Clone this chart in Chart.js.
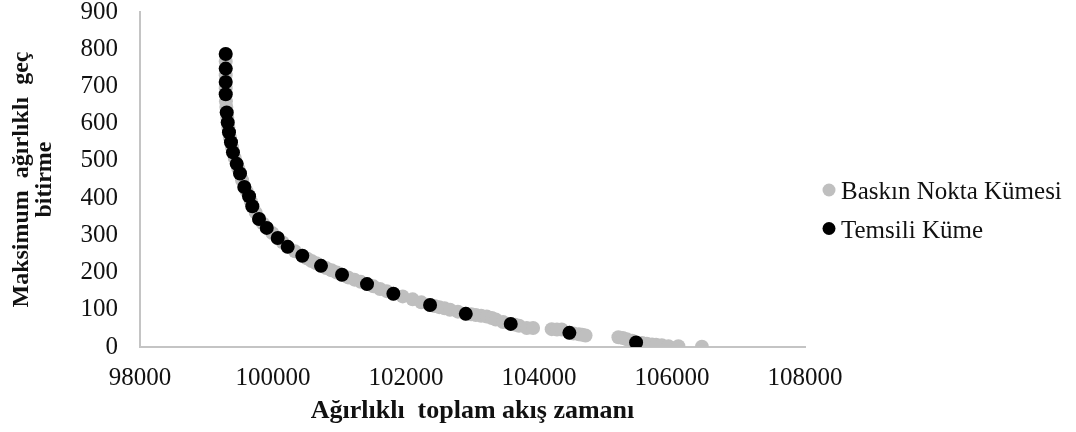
<!DOCTYPE html>
<html><head><meta charset="utf-8">
<script src="https://cdn.jsdelivr.net/npm/chart.js@4.4.0/dist/chart.umd.min.js"></script>
<style>html,body{margin:0;padding:0;background:#fff;overflow:hidden;} #wrap{width:1076px;height:432px;}</style>
</head><body><div id="wrap"><canvas id="c" width="1076" height="432"></canvas></div>
<script>
const seriesNames = ['Baskın Nokta Kümesi', 'Temsili Küme'];
const dominantX = [99289,99289,99289,99289,99289,99289,99289,99292,99298,99304,99312,99319,99328,99338,99352,99368,99383,99398,99425,99454,99478,99504,99535,99569,99604,99640,99665,99689,99740,99790,99848,99906,99990,100071,100146,100221,100331,100441,100510,100580,100650,100722,100800,100880,100960,101038,101130,101226,101320,101414,101510,101610,101710,101810,101950,102100,102230,102362,102430,102500,102580,102662,102780,102899,102980,103050,103130,103214,103290,103350,103460,103575,103640,103700,103816,103911,104191,104270,104341,104457,104520,104600,104650,104700,105194,105260,105320,105400,105460,105550,105621,105700,105760,105847,105946,106096,106450];
const dominantY = [787,767,748,730,712,695,679,660,645,630,616,603,590,577,563,550,537,523,508,492,479,466,448,430,418,405,392,378,361,344,332,320,306,293,281,269,257,245,238,231,225,218,212,206,200,194,187,181,175,169,163,156,150,143,136,128,120,113,110,107,104,100,95,89,88,86,84,82,78,74,67,62,60,57,51,51,48,47,47,38,36,34,33,31,26,24,21,17,12,11,9,7,6,5,2,2,1];
const representativeX = [99289,99289,99289,99289,99304,99319,99338,99368,99398,99454,99504,99569,99640,99689,99790,99906,100071,100221,100441,100722,101038,101414,101810,102362,102899,103575,104457,105460];
const representativeY = [787,748,712,679,630,603,577,550,523,492,466,430,405,378,344,320,293,269,245,218,194,169,143,113,89,62,38,12];
const xTicks = [98000, 100000, 102000, 104000, 106000, 108000];
const yTicks = [0, 100, 200, 300, 400, 500, 600, 700, 800, 900];
const xTitle = 'Ağırlıklı  toplam akış zamanı';
const yTitle = ['Maksimum  ağırlıklı  geç', 'bitirme'];

const toPoints = (xs, ys) => xs.map((x, i) => ({x: x, y: ys[i]}));
const SERIF = "'Liberation Serif', 'Times New Roman', serif";

const legendPlugin = {
  id: 'customLegend',
  afterDraw(chart) {
    const ctx = chart.ctx;
    ctx.save();
    chart.data.datasets.forEach((ds, i) => {
      const cy = 190 + i * 38.5;
      ctx.beginPath();
      ctx.arc(829, cy, 6.5, 0, Math.PI * 2);
      ctx.fillStyle = ds.backgroundColor;
      ctx.fill();
      ctx.fillStyle = '#111111';
      ctx.font = "25px " + SERIF;
      ctx.textAlign = 'left';
      ctx.textBaseline = 'alphabetic';
      ctx.fillText(ds.label, 841, cy + 9);
    });
    ctx.restore();
  }
};

new Chart(document.getElementById('c'), {
  type: 'scatter',
  data: {
    datasets: [
      {label: seriesNames[0], data: toPoints(dominantX, dominantY), backgroundColor: '#bfbfbf', borderWidth: 0, pointRadius: 7, pointHoverRadius: 7, order: 2},
      {label: seriesNames[1], data: toPoints(representativeX, representativeY), backgroundColor: '#000000', borderWidth: 0, pointRadius: 7, pointHoverRadius: 7, order: 1}
    ]
  },
  options: {
    responsive: false,
    animation: false,
    devicePixelRatio: 1,
    layout: {padding: {left: 0, right: 271, top: 12, bottom: 0}},
    plugins: {legend: {display: false}, tooltip: {enabled: false}},
    scales: {
      x: {
        type: 'linear', min: 98000, max: 108000,
        afterBuildTicks: s => { s.ticks = xTicks.map(v => ({value: v})); },
        afterFit: s => { s.height = 85; },
        grid: {display: false, drawTicks: false},
        border: {display: true, color: '#c4c4c4', width: 2},
        ticks: {padding: 16, color: '#111111', font: {family: SERIF, size: 25}, callback: v => String(v), maxRotation: 0},
        title: {display: true, text: xTitle, color: '#111111', font: {family: SERIF, size: 26, weight: 'bold'}, padding: {top: 0, bottom: 5}}
      },
      y: {
        type: 'linear', min: 0, max: 900,
        afterBuildTicks: s => { s.ticks = yTicks.map(v => ({value: v})); },
        afterFit: s => { s.width = 140; s.paddingTop = 0; s.paddingBottom = 0; },
        grid: {display: false, drawTicks: false},
        border: {display: true, color: '#c4c4c4', width: 2},
        ticks: {padding: 22, color: '#111111', font: {family: SERIF, size: 25}, callback: v => String(v)},
        title: {display: true, text: yTitle, color: '#111111', font: {family: SERIF, size: 24, weight: 'bold', lineHeight: 0.96}, padding: {top: 10, bottom: 0}}
      }
    }
  },
  plugins: [legendPlugin]
});
</script>
</body></html>
